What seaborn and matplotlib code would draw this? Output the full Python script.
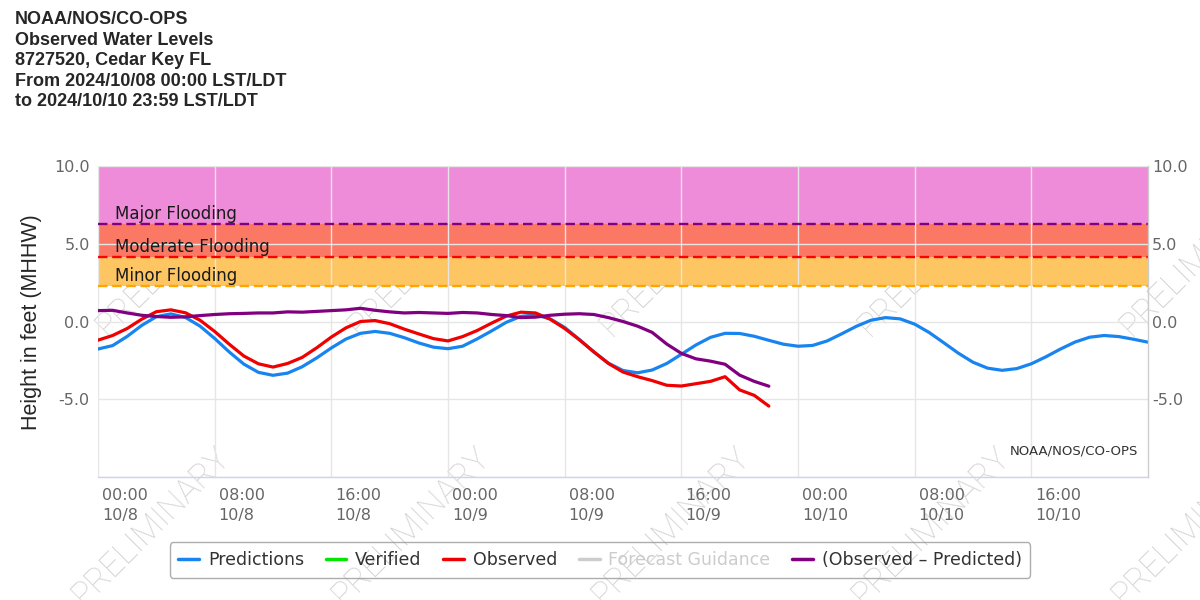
import numpy as np
import pandas as pd
import seaborn as sns
import matplotlib
matplotlib.use("Agg")
import matplotlib.pyplot as plt
from matplotlib.lines import Line2D
from matplotlib.transforms import ScaledTranslation

# ---- data (hours from 2024/10/08 00:00) ----
pred_hours = list(range(0, 73))
predictions = [-1.77, -1.55, -0.96, -0.25, 0.31, 0.49, 0.26, -0.30, -1.09, -1.96,
               -2.74, -3.27, -3.46, -3.32, -2.91, -2.34, -1.70, -1.13, -0.76, -0.64,
               -0.76, -1.04, -1.38, -1.65, -1.75, -1.59, -1.12, -0.60, -0.05, 0.33,
               0.42, 0.17, -0.38, -1.15, -1.96, -2.68, -3.15, -3.30, -3.12, -2.70,
               -2.11, -1.51, -1.02, -0.76, -0.77, -0.95, -1.21, -1.46, -1.59, -1.54,
               -1.25, -0.79, -0.31, 0.08, 0.25, 0.17, -0.17, -0.71, -1.37, -2.04,
               -2.62, -3.00, -3.14, -3.03, -2.72, -2.27, -1.77, -1.32, -1.01, -0.90,
               -0.97, -1.14, -1.33]

obs_hours = list(range(0, 47))
observed = [-1.20, -0.90, -0.45, 0.15, 0.63, 0.75, 0.56, 0.08, -0.64, -1.46,
            -2.22, -2.72, -2.93, -2.70, -2.31, -1.69, -1.00, -0.41, 0.00, 0.06,
            -0.14, -0.49, -0.80, -1.10, -1.25, -0.97, -0.58, -0.10, 0.35, 0.60,
            0.55, 0.15, -0.45, -1.17, -1.95, -2.70, -3.25, -3.55, -3.80, -4.10,
            -4.15, -4.00, -3.85, -3.55, -4.40, -4.75, -5.44]
obs_minus_pred = [0.70, 0.72, 0.55, 0.40, 0.32, 0.27, 0.30, 0.38, 0.45, 0.50,
                  0.52, 0.55, 0.55, 0.62, 0.60, 0.65, 0.70, 0.75, 0.85, 0.72,
                  0.62, 0.55, 0.58, 0.55, 0.52, 0.58, 0.55, 0.45, 0.38, 0.25,
                  0.28, 0.40, 0.47, 0.50, 0.45, 0.25, 0.00, -0.30, -0.70, -1.45,
                  -2.05, -2.40, -2.55, -2.75, -3.45, -3.85, -4.16]

flood_names = ["Major Flooding", "Moderate Flooding", "Minor Flooding"]
flood_levels = [6.28, 4.14, 2.26]
flood_tops = [10.0, 6.28, 4.14]

tick_hours = [0, 8, 16, 24, 32, 40, 48, 56, 64]
tick_labels = ["00:00\n10/8", "08:00\n10/8", "16:00\n10/8",
               "00:00\n10/9", "08:00\n10/9", "16:00\n10/9",
               "00:00\n10/10", "08:00\n10/10", "16:00\n10/10"]
y_ticks = [-10, -5, 0, 5, 10]
y_labels = ["", "-5.0", "0.0", "5.0", "10.0"]

legend_names = ["Predictions", "Verified", "Observed", "Forecast Guidance",
                "(Observed \u2013 Predicted)"]

title = ("NOAA/NOS/CO-OPS\nObserved Water Levels\n8727520, Cedar Key FL\n"
         "From 2024/10/08 00:00 LST/LDT\nto 2024/10/10 23:59 LST/LDT")

# ---- styling ----
sns.set_style("white")
plt.rcParams["font.family"] = ["DejaVu Sans"]

c_pred, c_ver, c_obs, c_fg, c_diff = "#1884f0", "#00e600", "#f00000", "#cccccc", "#800080"
band_colors = ["#ee8cda", "#fb7865", "#fec563"]
line_colors = ["#800080", "#ff0000", "#ffa500"]
grey = "#666666"

fig = plt.figure(figsize=(12, 6), dpi=100)
W, H = 1200.0, 600.0
ax = fig.add_axes([98 / W, 1 - 477 / H, 1050 / W, 311 / H])
ax.set_facecolor("none")

# watermark, drawn under the axes so the flood bands hide it
wm = dict(rotation=45, rotation_mode="anchor", ha="left", va="baseline",
          fontsize=24, color="#d2d2d2", zorder=-1, family=["Roboto", "DejaVu Sans"],
          fontweight="light")
for x0 in [84, 344, 604, 864, 1124]:
    fig.text(x0 / W, 1 - 606 / H, "PRELIMINARY", **wm)
for x0 in [108, 360, 612, 870, 1132]:
    fig.text(x0 / W, 1 - 337 / H, "PRELIMINARY", **wm)

# flood bands
for name, lo, hi, bc, lc in zip(flood_names, flood_levels, flood_tops, band_colors, line_colors):
    ax.axhspan(lo, hi, color=bc, lw=0, zorder=1)
    ax.axhline(lo, color=lc, lw=1.7, ls=(0, (4, 2)), zorder=1.6)
    ax.text(1.15, lo + 0.08, name, fontsize=12, color="#1a1a1a", ha="left",
            va="bottom", zorder=1.7)

pred_df = pd.DataFrame({"hour": pred_hours, "ft": predictions})
obs_df = pd.DataFrame({"hour": obs_hours, "obs": observed, "diff": obs_minus_pred})
sns.lineplot(data=pred_df, x="hour", y="ft", ax=ax, color=c_pred, lw=2.3,
             estimator=None, zorder=3)
sns.lineplot(data=obs_df, x="hour", y="obs", ax=ax, color=c_obs, lw=2.3,
             estimator=None, zorder=3.1)
sns.lineplot(data=obs_df, x="hour", y="diff", ax=ax, color=c_diff, lw=2.3,
             estimator=None, zorder=3.2)

ax.set_xlim(0, 72)
ax.set_ylim(-10, 10)
ax.set_xlabel("")
ax.set_ylabel("")
ax.set_axisbelow("line")
ax.grid(True, color="#e6e6e6", lw=1)

ax.set_xticks(tick_hours)
ax.set_xticklabels(tick_labels)
ax.set_yticks(y_ticks)
ax.set_yticklabels(y_labels)
ax.tick_params(axis="x", length=8, width=1, color="#ccd6eb", pad=0,
               labelsize=11.5, labelcolor=grey)
ax.tick_params(axis="y", length=0, pad=6, labelsize=11.5, labelcolor=grey)
shift = ScaledTranslation(4 / 100, 0, fig.dpi_scale_trans)
for lbl in ax.get_xticklabels():
    lbl.set_ha("left")
    lbl.set_multialignment("left")
    lbl.set_linespacing(1.4)
    lbl.set_transform(lbl.get_transform() + shift)

for side in ["top", "left", "right"]:
    ax.spines[side].set_visible(False)
ax.spines["bottom"].set_color("#ccd6eb")
ax.spines["bottom"].set_linewidth(1)

ax2 = ax.twinx()
ax2.set_ylim(-10, 10)
ax2.set_yticks(y_ticks)
ax2.set_yticklabels(y_labels)
ax2.tick_params(axis="y", length=0, pad=3, labelsize=11.5, labelcolor=grey)
ax2.grid(False)
for side in ["top", "left", "bottom"]:
    ax2.spines[side].set_visible(False)
ax2.spines["right"].set_color("#cccccc")
ax2.spines["right"].set_linewidth(1)

ax.text(71.3, -8.35, "NOAA/NOS/CO-OPS", fontsize=9.5, color="#333333",
        ha="right", va="center", zorder=4)

# title and axis label
fig.text(15 / W, 1 - 11 / H, title, fontsize=13, fontweight="bold",
         family="Liberation Sans", va="top", ha="left", linespacing=1.27)
fig.text(32 / W, 1 - 322 / H, "Height in feet (MHHW)", rotation=90,
         fontsize=15.5, family="Liberation Sans", ha="center", va="center")

# legend
handles = [Line2D([], [], color=c, lw=2.5) for c in [c_pred, c_ver, c_obs, c_fg, c_diff]]
leg = fig.legend(handles, legend_names, loc="center", bbox_to_anchor=(0.5, 1 - 560 / H),
                 ncol=5, frameon=True, fancybox=True, fontsize=12.5, handlelength=1.2,
                 handletextpad=0.5, columnspacing=1.25, borderpad=0.5)
leg.get_frame().set_edgecolor("#999999")
leg.get_frame().set_facecolor("none")
leg.get_frame().set_linewidth(1)
for t in leg.get_texts():
    t.set_color("#333333")
leg.get_texts()[3].set_color("#cccccc")

fig.savefig("out.png", dpi=100)
